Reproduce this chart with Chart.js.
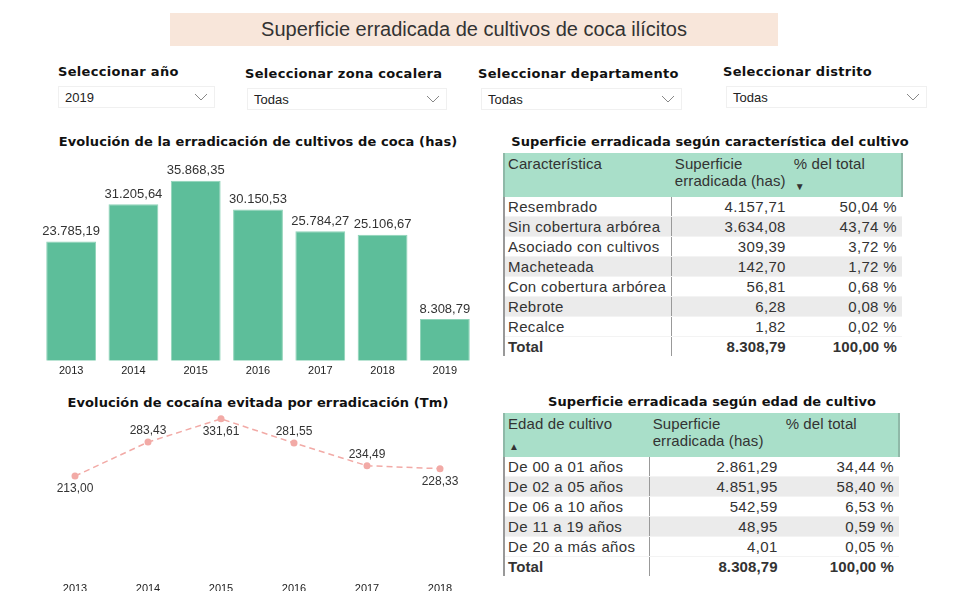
<!DOCTYPE html>
<html>
<head>
<meta charset="utf-8">
<script src="https://cdn.jsdelivr.net/npm/chart.js@4.4.1/dist/chart.umd.min.js"></script>
<style>
  html, body { margin: 0; padding: 0; background: #fff; width: 966px; height: 591px; overflow: hidden; }
  body { position: relative; font-family: 'Liberation Sans', Arial, sans-serif; color: #333; }
  .abs { position: absolute; }
  .banner { left: 170px; top: 13px; width: 608px; height: 33px; background: #f8e6da;
            font-size: 20px; line-height: 33px; text-align: center; color: #333; }
  .flabel { font-family: 'DejaVu Sans', sans-serif; font-weight: bold; font-size: 13px; letter-spacing: 0.3px; color: #111; }
  .drop { height: 22px; border: 1px solid #f0f0f0; font-size: 13px; line-height: 22px; padding-left: 6px; box-sizing: border-box; color: #222; }
  .drop svg { position: absolute; right: 6px; top: 6px; }
  .ctitle { font-family: 'DejaVu Sans', sans-serif; font-weight: bold; font-size: 13px; letter-spacing: 0.1px; color: #111; text-align: center; white-space: nowrap; }
  table { border-collapse: collapse; font-size: 15px; letter-spacing: 0.35px; }
  th { background: #a9dfc9; font-weight: normal; text-align: left; vertical-align: top; padding: 2px 3px; height: 40px; color: #333; position: relative; line-height: 17px; letter-spacing: 0.1px; }
  td { height: 19px; padding: 0 5px 0 3px; line-height: 19px; white-space: nowrap; border-bottom: 1px solid #f3f3f3; }
  td.n { text-align: right; }
  tr.alt td { background: #ebebeb; }
  tr.tot td { font-weight: bold; border-bottom: none; letter-spacing: 0.1px; }
  td.c1 { border-left: 2px solid #999; border-right: 1px solid #999; }
  th.c1 { border-left: 2px solid #8fb9a8; }
  th.c3 { border-right: 2px solid #8fb9a8; }
  .arrow { position: absolute; left: 4px; bottom: 2px; font-size: 10px; }
</style>
</head>
<body>
<div class="abs banner">Superficie erradicada de cultivos de coca ilícitos</div>

<div class="abs flabel" style="left:58px; top:64px;">Seleccionar año</div>
<div class="abs flabel" style="left:245px; top:66px;">Seleccionar zona cocalera</div>
<div class="abs flabel" style="left:478px; top:66px;">Seleccionar departamento</div>
<div class="abs flabel" style="left:723px; top:64px;">Seleccionar distrito</div>
<div class="abs drop" style="left:58px; top:86px; width:157px;">2019<svg width="14" height="8"><polyline points="1,1 7,7 13,1" fill="none" stroke="#888" stroke-width="1"/></svg></div>
<div class="abs drop" style="left:247px; top:88px; width:200px;">Todas<svg width="14" height="8"><polyline points="1,1 7,7 13,1" fill="none" stroke="#888" stroke-width="1"/></svg></div>
<div class="abs drop" style="left:481px; top:88px; width:201px;">Todas<svg width="14" height="8"><polyline points="1,1 7,7 13,1" fill="none" stroke="#888" stroke-width="1"/></svg></div>
<div class="abs drop" style="left:726px; top:86px; width:201px;">Todas<svg width="14" height="8"><polyline points="1,1 7,7 13,1" fill="none" stroke="#888" stroke-width="1"/></svg></div>

<div class="abs ctitle" style="left:40px; width:436px; top:134px;">Evolución de la erradicación de cultivos de coca (has)</div>
<div class="abs" style="left:0; top:150px; width:480px; height:232px;"><canvas id="barChart"></canvas></div>

<div class="abs ctitle" style="left:40px; width:436px; top:395px;">Evolución de cocaína evitada por erradicación (Tm)</div>
<div class="abs" style="left:0; top:400px; width:480px; height:200px;"><canvas id="lineChart"></canvas></div>

<div class="abs ctitle" style="left:503px; width:414px; top:134px;">Superficie erradicada según característica del cultivo</div>
<table class="abs" id="tblCar" style="left:503px; top:153px; width:400px;"></table>

<div class="abs ctitle" style="left:503px; width:418px; top:394px;">Superficie erradicada según edad de cultivo</div>
<table class="abs" id="tblEdad" style="left:503px; top:413px; width:397px;"></table>

<script>
// datos de los gráficos
const years = ['2013', '2014', '2015', '2016', '2017', '2018', '2019'];
const erradicadoHas = [23785.19, 31205.64, 35868.35, 30150.53, 25784.27, 25106.67, 8308.79];

const yearsCocaina = ['2013', '2014', '2015', '2016', '2017', '2018'];
const cocainaTm = [213.00, 283.43, 331.61, 281.55, 234.49, 228.33];

// datos de las tablas
const caracteristicas = ['Resembrado', 'Sin cobertura arbórea', 'Asociado con cultivos', 'Macheteada', 'Con cobertura arbórea', 'Rebrote', 'Recalce'];
const caracHas = [4157.71, 3634.08, 309.39, 142.70, 56.81, 6.28, 1.82];
const caracPct = [50.04, 43.74, 3.72, 1.72, 0.68, 0.08, 0.02];

const edades = ['De 00 a 01 años', 'De 02 a 05 años', 'De 06 a 10 años', 'De 11 a 19 años', 'De 20 a más años'];
const edadHas = [2861.29, 4851.95, 542.59, 48.95, 4.01];
const edadPct = [34.44, 58.40, 6.53, 0.59, 0.05];

const totalHas = 8308.79;

// formato 1.234,56
function fmt(v) {
  const parts = v.toFixed(2).split('.');
  parts[0] = parts[0].replace(/\B(?=(\d{3})+(?!\d))/g, '.');
  return parts[0] + ',' + parts[1];
}

function renderTable(id, headers, arrow, names, has, pct) {
  const widths = id === 'tblCar' ? [165, 122, 113] : [145, 135, 117];
  let html = '<tr>' + headers.map((h, i) =>
    `<th class="c${i + 1}" style="width:${widths[i] - 6}px">${h}${arrow.col === i ? `<span class="arrow">${arrow.sym}</span>` : ''}</th>`).join('') + '</tr>';
  html += names.map((n, i) => `
    <tr class="${i % 2 ? 'alt' : ''}">
      <td class="c1">${n}</td>
      <td class="n">${fmt(has[i])}</td>
      <td class="n">${fmt(pct[i])} %</td>
    </tr>`).join('');
  html += `<tr class="tot"><td class="c1">Total</td><td class="n">${fmt(totalHas)}</td><td class="n">100,00 %</td></tr>`;
  document.getElementById(id).innerHTML = html;
}

renderTable('tblCar', ['Característica', 'Superficie erradicada (has)', '% del total'], { col: 2, sym: '&#9660;' }, caracteristicas, caracHas, caracPct);
renderTable('tblEdad', ['Edad de cultivo', 'Superficie erradicada (has)', '% del total'], { col: 0, sym: '&#9650;' }, edades, edadHas, edadPct);

Chart.defaults.font.family = "'Liberation Sans', Arial, sans-serif";
Chart.defaults.color = '#333';
Chart.defaults.animation = false;

// etiquetas de valores sobre las marcas
const valueLabels = {
  id: 'valueLabels',
  afterDatasetsDraw(chart, args, opts) {
    const ctx = chart.ctx;
    const meta = chart.getDatasetMeta(0);
    const data = chart.data.datasets[0].data;
    ctx.save();
    ctx.font = (opts.size || 12) + "px 'Liberation Sans', Arial, sans-serif";
    ctx.fillStyle = '#333';
    ctx.textAlign = 'center';
    ctx.textBaseline = 'middle';
    meta.data.forEach((el, i) => {
      const pos = opts.pos ? opts.pos[i] : 'top';
      const dy = pos === 'below' ? 13 : (pos === 'above' ? -11 : -10);
      ctx.fillText(fmt(data[i]), el.x, el.y + dy);
    });
    ctx.restore();
  }
};

new Chart(document.getElementById('barChart'), {
  type: 'bar',
  data: { labels: years, datasets: [{ data: erradicadoHas, backgroundColor: '#5dbe9a', borderColor: '#8fd3b8', borderWidth: 1, barPercentage: 0.8, categoryPercentage: 1 }] },
  options: {
    responsive: true, maintainAspectRatio: false,
    layout: { padding: { left: 40, right: 4, top: 10, bottom: 0 } },
    plugins: { legend: { display: false }, tooltip: { enabled: false }, valueLabels: { size: 13 } },
    scales: {
      x: { grid: { display: false, drawTicks: false }, border: { display: false }, ticks: { font: { size: 11 }, color: '#222', padding: 4 } },
      y: { display: false, min: 0, max: 40000 }
    }
  },
  plugins: [valueLabels]
});

new Chart(document.getElementById('lineChart'), {
  type: 'line',
  data: { labels: yearsCocaina, datasets: [{ data: cocainaTm, borderColor: '#f2aaa6', backgroundColor: '#f2aaa6', borderWidth: 1.5, borderDash: [6, 4], pointRadius: 3.5, pointBackgroundColor: '#f2aaa6', pointBorderWidth: 0, tension: 0 }] },
  options: {
    responsive: true, maintainAspectRatio: false,
    layout: { padding: { left: 75, right: 40, top: 10, bottom: 0 } },
    plugins: { legend: { display: false }, tooltip: { enabled: false }, valueLabels: { size: 12, pos: ['below', 'above', 'below', 'above', 'above', 'below'] } },
    scales: {
      x: { offset: false, grid: { display: false, drawTicks: false }, border: { display: false }, ticks: { font: { size: 11 }, color: '#222', padding: 4 } },
      y: { display: false, min: 0, max: 350 }
    }
  },
  plugins: [valueLabels]
});
</script>
</body>
</html>
